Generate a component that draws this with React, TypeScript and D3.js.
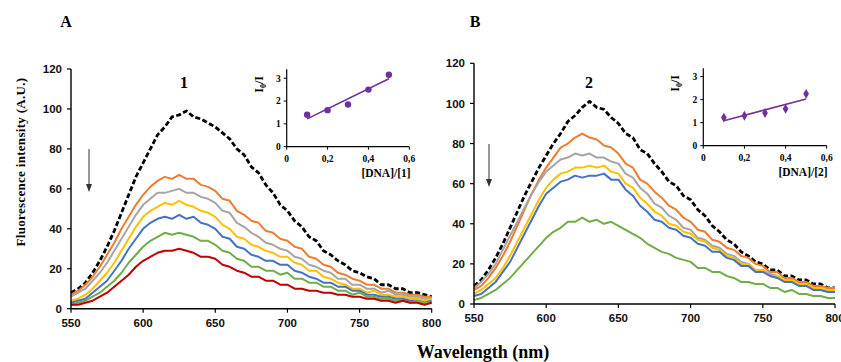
import * as d3 from "d3"

// wavelength grid (nm) shared by every spectrum
const wavelengths = [
  550, 555, 560, 565, 570, 575, 580, 585, 590, 595, 600, 605, 610, 615, 620, 625, 630, 635, 640, 645,
  650, 655, 660, 665, 670, 675, 680, 685, 690, 695, 700, 705, 710, 715, 720, 725, 730, 735, 740, 745,
  750, 755, 760, 765, 770, 775, 780, 785, 790, 795, 800,
]

// panel A spectra (complex 1)
const blackA = [
  8, 10, 13, 18, 24, 31, 39, 48, 57, 66, 73, 80, 87, 91, 96, 97, 99, 96, 95, 93,
  91, 88, 85, 80, 77, 71, 68, 62, 58, 52, 49, 44, 41, 36, 34, 29, 27, 24, 22, 19,
  18, 16, 15, 12, 12, 10, 10, 8, 8, 7, 6,
]
const orangeA = [
  7, 9, 12, 16, 21, 27, 33, 40, 46, 52, 57, 61, 64, 66, 65, 67, 65, 65, 62, 61,
  59, 55, 54, 49, 47, 44, 43, 39, 38, 35, 34, 31, 30, 26, 25, 22, 21, 18, 17, 15,
  14, 12, 12, 10, 10, 8, 8, 7, 7, 6, 6,
]
const grayA = [
  6, 8, 10, 14, 18, 23, 29, 35, 41, 47, 52, 55, 58, 58, 59, 60, 58, 58, 56, 55,
  53, 49, 48, 43, 41, 38, 36, 33, 32, 30, 29, 26, 25, 22, 21, 19, 18, 15, 15, 12,
  12, 10, 10, 8, 9, 7, 7, 6, 6, 5, 5,
]
const yellowA = [
  4, 5, 7, 10, 14, 18, 23, 29, 35, 41, 46, 49, 51, 53, 52, 54, 52, 51, 49, 48,
  46, 42, 40, 36, 35, 32, 31, 29, 28, 26, 26, 23, 22, 19, 19, 16, 15, 13, 12, 10,
  10, 8, 9, 7, 7, 6, 6, 5, 5, 4, 5,
]
const blueA = [
  3, 4, 5, 8, 11, 14, 19, 24, 30, 35, 40, 43, 45, 46, 45, 47, 45, 46, 43, 42,
  40, 36, 35, 31, 30, 27, 26, 24, 24, 22, 22, 19, 18, 16, 15, 13, 13, 11, 11, 9,
  9, 7, 7, 6, 6, 5, 5, 4, 4, 3, 4,
]
const greenA = [
  2, 3, 4, 6, 8, 11, 14, 18, 23, 27, 31, 34, 36, 38, 37, 38, 37, 36, 34, 34,
  32, 29, 28, 25, 24, 21, 21, 19, 19, 17, 18, 15, 15, 13, 13, 11, 11, 9, 9, 7,
  8, 6, 6, 5, 5, 4, 4, 3, 4, 3, 3,
]
const redA = [
  2, 2, 3, 4, 6, 8, 11, 14, 17, 21, 24, 26, 28, 29, 29, 30, 29, 28, 26, 26,
  25, 22, 21, 19, 18, 16, 16, 14, 14, 12, 12, 10, 10, 9, 9, 8, 8, 7, 7, 6,
  6, 5, 5, 4, 4, 3, 4, 3, 3, 2, 3,
]

// panel B spectra (complex 2)
const blackB = [
  9, 12, 17, 23, 30, 38, 46, 54, 61, 68, 74, 80, 85, 91, 94, 98, 101, 98, 97, 93,
  90, 85, 83, 77, 75, 70, 66, 61, 59, 54, 52, 47, 44, 39, 36, 32, 30, 26, 24, 21,
  20, 17, 17, 14, 14, 12, 12, 10, 10, 8, 8,
]
const orangeB = [
  7, 9, 13, 18, 24, 31, 39, 47, 55, 62, 68, 73, 78, 80, 83, 85, 83, 82, 79, 78,
  75, 70, 68, 62, 60, 56, 53, 49, 47, 43, 41, 37, 36, 32, 31, 28, 27, 24, 23, 20,
  19, 16, 16, 13, 13, 11, 11, 9, 9, 8, 8,
]
const grayB = [
  8, 11, 15, 20, 27, 34, 41, 48, 55, 61, 66, 69, 72, 73, 75, 74, 75, 73, 73, 71,
  70, 65, 63, 58, 55, 50, 48, 44, 42, 38, 37, 33, 32, 29, 28, 25, 24, 21, 20, 17,
  17, 15, 14, 12, 12, 10, 10, 8, 8, 7, 7,
]
const yellowB = [
  5, 7, 10, 13, 18, 24, 31, 38, 45, 52, 58, 62, 65, 66, 68, 68, 69, 68, 69, 66,
  65, 60, 58, 53, 50, 46, 44, 40, 39, 36, 35, 32, 31, 28, 27, 24, 23, 20, 20, 17,
  17, 14, 14, 12, 12, 10, 10, 8, 8, 7, 7,
]
const blueB = [
  4, 5, 8, 11, 16, 21, 28, 35, 42, 49, 55, 58, 61, 62, 64, 63, 64, 64, 65, 62,
  62, 57, 54, 49, 46, 42, 41, 38, 37, 34, 33, 30, 29, 26, 26, 23, 22, 19, 19, 16,
  16, 14, 13, 11, 11, 9, 9, 7, 7, 6, 6,
]
const greenB = [
  2, 3, 5, 7, 10, 13, 17, 21, 25, 29, 33, 36, 38, 41, 41, 43, 41, 42, 40, 41,
  39, 37, 35, 33, 30, 28, 26, 25, 23, 22, 21, 18, 18, 16, 16, 14, 13, 11, 11, 10,
  10, 8, 8, 6, 7, 5, 5, 4, 4, 3, 3,
]

// Stern-Volmer insets
const ratioX = [0.1, 0.2, 0.3, 0.4, 0.5]
const ratioA = [1.4, 1.6, 1.85, 2.5, 3.15]
const ratioB = [1.22, 1.3, 1.42, 1.6, 2.25]

const xTicks = [550, 600, 650, 700, 750, 800]
const yTicks = [0, 20, 40, 60, 80, 100, 120]
const insetXTicks = [0, 0.2, 0.4, 0.6]
const insetYTicks = [0, 1, 2, 3]

const colors = {
  black: "#000000",
  orange: "#ED7D31",
  gray: "#A5A5A5",
  yellow: "#FFC000",
  blue: "#4472C4",
  green: "#70AD47",
  red: "#C00000",
  purple: "#7030A0",
}

const sans = "'Liberation Sans', Arial, sans-serif"
const serif = "'Liberation Serif', 'Times New Roman', serif"

// least-squares line through the inset points
function fit(xs: number[], ys: number[]) {
  const mx = d3.mean(xs)!
  const my = d3.mean(ys)!
  const sxy = d3.sum(xs, (x, i) => (x - mx) * (ys[i] - my))
  const sxx = d3.sum(xs, (x) => (x - mx) ** 2)
  const slope = sxy / sxx
  return (x: number) => my + slope * (x - mx)
}

interface PanelProps {
  plot: { left: number; right: number; top: number; bottom: number }
  series: { values: number[]; color: string; dashed?: boolean }[]
  letter: { text: string; x: number; y: number }
  number: { text: string; x: number; y: number }
  arrow: { x: number; y1: number; y2: number }
  inset: { left: number; right: number; top: number; bottom: number; yMax: number }
  ratios: number[]
  marker: "circle" | "diamond"
  insetLabel: string
}

function Panel(p: PanelProps) {
  const x = d3.scaleLinear().domain([550, 800]).range([p.plot.left, p.plot.right])
  const y = d3.scaleLinear().domain([0, 120]).range([p.plot.bottom, p.plot.top])
  const line = d3
    .line<number>()
    .x((_, i) => x(wavelengths[i]))
    .y((d) => y(d))

  const ix = d3.scaleLinear().domain([0, 0.6]).range([p.inset.left, p.inset.right])
  const iy = d3.scaleLinear().domain([0, p.inset.yMax]).range([p.inset.bottom, p.inset.top])
  const reg = fit(ratioX, p.ratios)
  const diamond = d3.symbol().type(d3.symbolDiamond).size(28)()

  return (
    <g>
      {/* spectra, drawn back to front */}
      {p.series.map((s, i) => (
        <path
          key={i}
          d={line(s.values) ?? ""}
          fill="none"
          stroke={s.color}
          strokeWidth={s.dashed ? 2.8 : 2}
          strokeDasharray={s.dashed ? "5 2.5" : undefined}
          strokeLinejoin="round"
        />
      ))}

      {/* main axes */}
      <line x1={p.plot.left} x2={p.plot.left} y1={p.plot.top} y2={p.plot.bottom} stroke="#000" strokeWidth={1.4} />
      <line x1={p.plot.left} x2={p.plot.right} y1={p.plot.bottom} y2={p.plot.bottom} stroke="#000" strokeWidth={1.4} />
      {yTicks.map((t) => (
        <g key={t}>
          <line x1={p.plot.left - 4} x2={p.plot.left} y1={y(t)} y2={y(t)} stroke="#000" strokeWidth={1.2} />
          <text
            x={p.plot.left - 9}
            y={y(t)}
            dy="0.36em"
            textAnchor="end"
            fontFamily={sans}
            fontWeight="bold"
            fontSize={11.5}
            fill="#111"
          >
            {t}
          </text>
        </g>
      ))}
      {xTicks.map((t) => (
        <g key={t}>
          <line x1={x(t)} x2={x(t)} y1={p.plot.bottom} y2={p.plot.bottom + 4} stroke="#000" strokeWidth={1.2} />
          <text
            x={x(t)}
            y={p.plot.bottom + 18}
            textAnchor="middle"
            fontFamily={sans}
            fontWeight="bold"
            fontSize={11.5}
            fill="#111"
          >
            {t}
          </text>
        </g>
      ))}

      {/* panel letter and complex number */}
      <text x={p.letter.x} y={p.letter.y} textAnchor="middle" fontFamily={serif} fontWeight="bold" fontSize={16}>
        {p.letter.text}
      </text>
      <text x={p.number.x} y={p.number.y} textAnchor="middle" fontFamily={serif} fontWeight="bold" fontSize={16}>
        {p.number.text}
      </text>

      {/* quenching arrow */}
      <line x1={p.arrow.x} x2={p.arrow.x} y1={p.arrow.y1} y2={p.arrow.y2 - 6} stroke="#333" strokeWidth={1} />
      <path
        d={`M${p.arrow.x - 3},${p.arrow.y2 - 8} L${p.arrow.x + 3},${p.arrow.y2 - 8} L${p.arrow.x},${p.arrow.y2} Z`}
        fill="#333"
      />

      {/* inset */}
      <line
        x1={ix(0.1)}
        x2={ix(0.5)}
        y1={iy(reg(0.1))}
        y2={iy(reg(0.5))}
        stroke={colors.purple}
        strokeWidth={1.6}
      />
      {ratioX.map((r, i) =>
        p.marker === "circle" ? (
          <circle key={i} cx={ix(r)} cy={iy(p.ratios[i])} r={3.2} fill={colors.purple} />
        ) : (
          <path key={i} d={diamond ?? ""} transform={`translate(${ix(r)},${iy(p.ratios[i])})`} fill={colors.purple} />
        ),
      )}
      <line x1={p.inset.left} x2={p.inset.left} y1={p.inset.top} y2={p.inset.bottom} stroke="#000" strokeWidth={1.2} />
      <line x1={p.inset.left} x2={p.inset.right} y1={p.inset.bottom} y2={p.inset.bottom} stroke="#000" strokeWidth={1.2} />
      {insetYTicks.map((t) => (
        <g key={t}>
          <line x1={p.inset.left - 3} x2={p.inset.left} y1={iy(t)} y2={iy(t)} stroke="#000" strokeWidth={1} />
          <text
            x={p.inset.left - 6}
            y={iy(t)}
            dy="0.35em"
            textAnchor="end"
            fontFamily={serif}
            fontWeight="bold"
            fontSize={9.5}
          >
            {t}
          </text>
        </g>
      ))}
      {insetXTicks.map((t) => (
        <g key={t}>
          <line x1={ix(t)} x2={ix(t)} y1={p.inset.bottom} y2={p.inset.bottom + 3} stroke="#000" strokeWidth={1} />
          <text
            x={ix(t)}
            y={p.inset.bottom + 15}
            textAnchor="middle"
            fontFamily={serif}
            fontWeight="bold"
            fontSize={9.5}
          >
            {t === 0 ? "0" : d3.format(".1f")(t).replace(".", ",")}
          </text>
        </g>
      ))}
      <text
        x={(p.inset.left + p.inset.right) / 2 + 38}
        y={p.inset.bottom + 30}
        textAnchor="middle"
        fontFamily={serif}
        fontWeight="bold"
        fontSize={11.5}
      >
        {p.insetLabel}
      </text>
      <text
        transform={`translate(${p.inset.left - 24},${p.inset.top + 15}) rotate(-90)`}
        textAnchor="middle"
        fontFamily={serif}
        fontWeight="bold"
        fontSize={12}
      >
        I
        <tspan dy="3" fontSize={8}>
          0
        </tspan>
        <tspan dy="-3">/I</tspan>
      </text>
    </g>
  )
}

export default function App() {
  return (
    <svg width={841} height={362} style={{ position: "absolute", left: 0, top: 0, background: "#fff" }}>
      <Panel
        plot={{ left: 71, right: 431.7, top: 69, bottom: 308.7 }}
        series={[
          { values: blackA, color: colors.black, dashed: true },
          { values: orangeA, color: colors.orange },
          { values: grayA, color: colors.gray },
          { values: yellowA, color: colors.yellow },
          { values: blueA, color: colors.blue },
          { values: greenA, color: colors.green },
          { values: redA, color: colors.red },
        ]}
        letter={{ text: "A", x: 66, y: 27 }}
        number={{ text: "1", x: 184, y: 88 }}
        arrow={{ x: 89, y1: 149, y2: 192 }}
        inset={{ left: 286.7, right: 409.3, top: 69.3, bottom: 146.7, yMax: 3.39 }}
        ratios={ratioA}
        marker="circle"
        insetLabel="[DNA]/[1]"
      />
      <Panel
        plot={{ left: 474, right: 835, top: 63.3, bottom: 304 }}
        series={[
          { values: blackB, color: colors.black, dashed: true },
          { values: orangeB, color: colors.orange },
          { values: grayB, color: colors.gray },
          { values: yellowB, color: colors.yellow },
          { values: blueB, color: colors.blue },
          { values: greenB, color: colors.green },
        ]}
        letter={{ text: "B", x: 475, y: 27 }}
        number={{ text: "2", x: 589, y: 88 }}
        arrow={{ x: 489, y1: 144, y2: 187 }}
        inset={{ left: 703.3, right: 826.7, top: 68.3, bottom: 145.7, yMax: 3.36 }}
        ratios={ratioB}
        marker="diamond"
        insetLabel="[DNA]/[2]"
      />

      {/* shared titles */}
      <text
        transform="translate(20,162) rotate(-90)"
        textAnchor="middle"
        dy="0.35em"
        fontFamily={serif}
        fontWeight="bold"
        fontSize={13}
        letterSpacing={0.3}
      >
        Fluorescence intensity (A.U.)
      </text>
      <text x={483} y={358} textAnchor="middle" fontFamily={serif} fontWeight="bold" fontSize={18}>
        Wavelength (nm)
      </text>
    </svg>
  )
}
